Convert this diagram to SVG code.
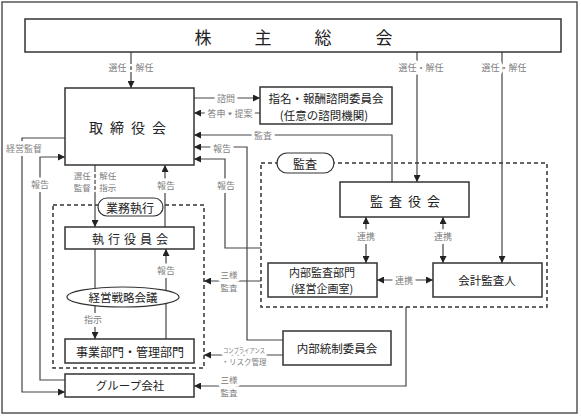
<svg xmlns="http://www.w3.org/2000/svg" width="581" height="417" viewBox="0 0 581 417">
<defs>
<marker id="ah" viewBox="0 0 10 10" refX="10" refY="5" markerWidth="7" markerHeight="7" markerUnits="userSpaceOnUse" orient="auto-start-reverse"><path d="M0,0 L10,5 L0,10z" fill="#222"/></marker>
<style>
text{font-family:"Noto Sans CJK JP","Liberation Serif",sans-serif;dominant-baseline:central;text-anchor:middle;fill:#222}
.box{fill:#fff;stroke:#333;stroke-width:1.5}
.dash{fill:none;stroke:#333;stroke-width:1.5;stroke-dasharray:4 3}
.pill{fill:#fff;stroke:#333;stroke-width:1.2}
.ln{fill:none;stroke:#444;stroke-width:1.2}
.a{marker-end:url(#ah)}
.b{marker-start:url(#ah);marker-end:url(#ah)}
.lbl{font-size:9px;fill:#808080;stroke:#fff;stroke-width:6;paint-order:stroke;stroke-linejoin:round}
.s{font-size:8.5px}
.t12{font-size:12px}
</style>
</defs>
<rect x="2" y="2" width="575" height="411" fill="#fff" stroke="#555" stroke-width="1.5"/>
<g id="g-gyomu"><rect class="dash" x="53" y="205" width="151" height="163"/></g>
<g id="g-kansa"><rect class="dash" x="261" y="163" width="286" height="144"/></g>
<g id="connectors">
<path class="ln a" d="M131,52 V88"/>
<path class="ln a" d="M417,52 V182"/>
<path class="ln a" d="M502,52 V263"/>
<path class="ln a" d="M194,98 H260"/>
<path class="ln a" d="M260,113 H194"/>
<path class="ln a" d="M392,182 V135 H194"/>
<path class="ln a" d="M283,340 H247 V147 H194"/>
<path class="ln a" d="M261,248 H225 V159 H194"/>
<path class="ln a" d="M65,138 H22 V392 H65"/>
<path class="ln a" d="M65,380 H40 V157 H65"/>
<path class="ln a" d="M95,165 V227"/>
<path class="ln a" d="M165,227 V165"/>
<path class="ln a" d="M95,249 V339"/>
<path class="ln a" d="M166,339 V249"/>
<path class="ln a" d="M261,281 H204"/>
<path class="ln a" d="M283,355 H204"/>
<path class="ln a" d="M406,307 V386 H194"/>
<path class="ln b" d="M366,217 V263"/>
<path class="ln b" d="M443,217 V263"/>
<path class="ln b" d="M377,280 H433"/>
</g>
<g id="labels">
<text class="lbl" x="131" y="67">選任・解任</text>
<text class="lbl" x="421" y="67">選任・解任</text>
<text class="lbl" x="504" y="67">選任・解任</text>
<text class="lbl" x="226" y="98">諮問</text>
<text class="lbl" x="230" y="113">答申・提案</text>
<text class="lbl" x="263" y="135">監査</text>
<text class="lbl" x="222" y="148">報告</text>
<text class="lbl" x="226" y="185">報告</text>
<text class="lbl" x="24" y="148">経営監督</text>
<text class="lbl" x="40" y="184">報告</text>
<text class="lbl s" x="95" y="175">選任・解任</text>
<text class="lbl s" x="95" y="187">監督・指示</text>
<text class="lbl" x="166" y="185">報告</text>
<text class="lbl" x="166" y="270">報告</text>
<text class="lbl" x="93" y="319">指示</text>
<text class="lbl" x="366" y="236">連携</text>
<text class="lbl" x="443" y="236">連携</text>
<text class="lbl" x="404" y="280">連携</text>
<text class="lbl s" x="229" y="274">三様</text>
<text class="lbl s" x="229" y="287">監査</text>
<text class="lbl" x="244" y="350" style="font-size:7px" textLength="42" lengthAdjust="spacingAndGlyphs">コンプライアンス</text>
<text class="lbl" x="244" y="361" style="font-size:7.5px">・リスク管理</text>
<text class="lbl s" x="229" y="379">三様</text>
<text class="lbl s" x="229" y="392">監査</text>
</g>
<g id="n-kabunushi"><rect class="box" x="25" y="19" width="536" height="33"/>
<text x="203" y="36" style="font-size:17px">株</text><text x="263" y="36" style="font-size:17px">主</text><text x="323" y="36" style="font-size:17px">総</text><text x="384" y="36" style="font-size:17px">会</text></g>
<g id="n-torishimariyaku"><rect class="box" x="65" y="88" width="129" height="77"/>
<text x="131" y="127" style="font-size:14px;letter-spacing:7px">取締役会</text></g>
<g id="n-shimei"><rect class="box" x="260" y="87" width="132" height="37"/>
<text x="326" y="98" style="font-size:11.5px">指名・報酬諮問委員会</text>
<text x="324" y="115" style="font-size:11.5px">(任意の諮問機関)</text></g>
<g id="n-kansayaku"><rect class="box" x="340" y="182" width="129" height="35"/>
<text x="408" y="200" style="font-size:13px;letter-spacing:6px">監査役会</text></g>
<g id="n-pill-kansa"><rect class="pill" x="277" y="153" width="57" height="20" rx="10"/>
<text x="305" y="163" class="t12">監査</text></g>
<g id="n-naibukansa"><rect class="box" x="268" y="263" width="109" height="34"/>
<text x="322" y="272" style="font-size:11px">内部監査部門</text>
<text x="322" y="288" style="font-size:11px">(経営企画室)</text></g>
<g id="n-kaikei"><rect class="box" x="433" y="263" width="109" height="34"/>
<text x="487" y="280" style="font-size:11.5px">会計監査人</text></g>
<g id="n-naibutousei"><rect class="box" x="283" y="331" width="108" height="34"/>
<text x="337" y="348" style="font-size:11.5px">内部統制委員会</text></g>
<g id="n-pill-gyomu"><rect class="pill" x="98" y="198" width="65" height="18" rx="9"/>
<text x="130" y="207" class="t12">業務執行</text></g>
<g id="n-shikkou"><rect class="box" x="65" y="227" width="129" height="22"/>
<text x="132" y="238" style="font-size:12px;letter-spacing:4px">執行役員会</text></g>
<g id="n-senryaku"><ellipse cx="123" cy="297" rx="56" ry="10" fill="#fff" stroke="#333" stroke-width="1.2"/>
<text x="123" y="297" style="font-size:11.5px">経営戦略会議</text></g>
<g id="n-jigyo"><rect class="box" x="65" y="339" width="129" height="24"/>
<text x="130" y="351" class="t12">事業部門・管理部門</text></g>
<g id="n-group"><rect class="box" x="65" y="374" width="129" height="23"/>
<text x="130" y="385" style="font-size:11.5px">グループ会社</text></g>
</svg>
